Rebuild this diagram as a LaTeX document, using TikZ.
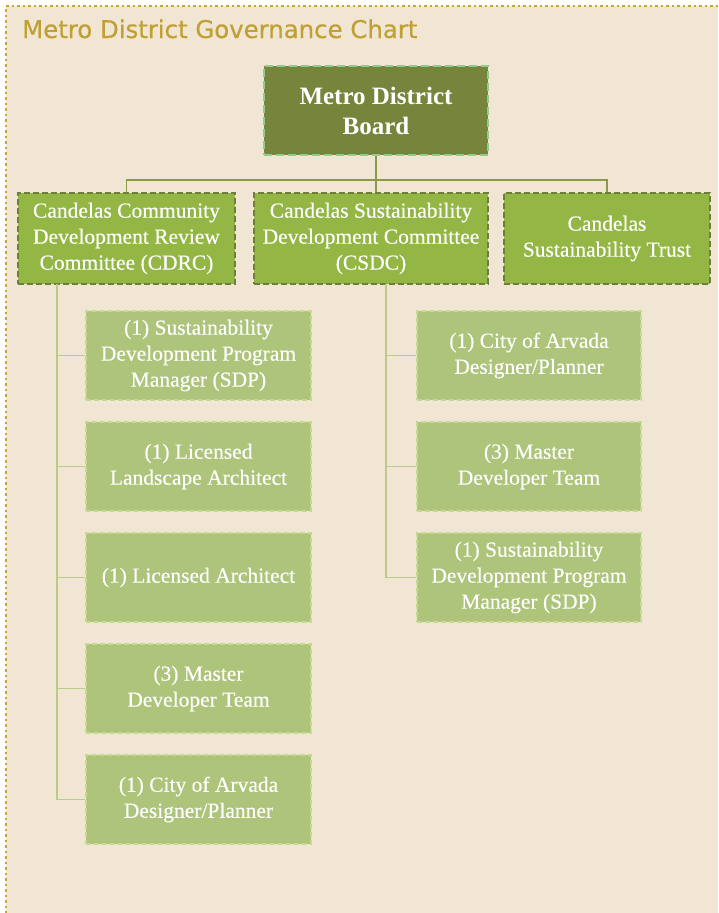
\documentclass[tikz,border=0pt]{standalone}
\usepackage{fontspec}
\setmainfont{Liberation Serif}[FakeBold=0.3]
\newfontfamily\boldserif{Liberation Serif Bold}
\newfontfamily\titlefont{DejaVu Sans}[FakeBold=0.5]
\usetikzlibrary{positioning}

\definecolor{paper}{RGB}{241,230,212}
\definecolor{gold}{RGB}{201,166,50}
\definecolor{titlegold}{RGB}{192,160,50}
\definecolor{olive}{RGB}{118,133,59}
\definecolor{mint}{RGB}{143,205,143}
\definecolor{leaf}{RGB}{147,182,68}
\definecolor{darkleaf}{RGB}{111,127,59}
\definecolor{sage}{RGB}{173,196,122}
\definecolor{palesage}{RGB}{196,217,146}
\definecolor{wire}{RGB}{138,154,74}
\definecolor{palewire}{RGB}{184,204,136}

\begin{document}
\begin{tikzpicture}[x=1pt,y=1pt,node distance=111pt]
        \tikzstyle{board}=[fill=olive,draw=mint,line width=2pt,dash pattern=on 8pt off 4pt,
                           text=white,font=\boldserif\fontsize{25}{30}\selectfont,align=center,
                           minimum width=224pt,minimum height=89pt,inner sep=0pt]
        \tikzstyle{committee}=[fill=leaf,draw=darkleaf,line width=2pt,dash pattern=on 6pt off 3pt,
                           text=white,font=\fontsize{21.5}{26}\selectfont,align=center,
                           minimum height=91pt,inner sep=0pt]
        \tikzstyle{member}=[fill=sage,draw=palesage,line width=1.5pt,dash pattern=on 5pt off 3pt,
                           text=white,font=\fontsize{21.5}{26}\selectfont,align=center,
                           minimum width=225pt,minimum height=89pt,inner sep=0pt]
        \tikzstyle{link}=[draw=wire,line width=1.5pt]
        \tikzstyle{sublink}=[draw=palewire,line width=1.5pt]

        % page
        \useasboundingbox (0,0) rectangle (718,-913);
        \fill[paper] (6,-6) rectangle (718,-913);
        \draw[gold,line width=2.5pt,dash pattern=on 2.5pt off 3pt]
             (718,-6) -- (6,-6) -- (6,-913);
        \node[anchor=base west,inner sep=0pt,text=titlegold,
              font=\titlefont\fontsize{24.4}{28}\selectfont] (title) at (22,-38)
             {Metro District Governance Chart};

        % top and second level
        \node[board]                        (board) at (376,-110.5) {Metro District\\Board};
        \node[committee,minimum width=217pt] (cdrc)  at (126.5,-238.5)
             {Candelas Community\\Development Review\\Committee (CDRC)};
        \node[committee,minimum width=234pt] (csdc)  at (371,-238.5)
             {Candelas Sustainability\\Development Committee\\(CSDC)};
        \node[committee,minimum width=206pt] (trust) at (607,-238.5)
             {Candelas\\Sustainability Trust};

        % CDRC members
        \node[member]             (l1) at (198.5,-355.5) {(1) Sustainability\\Development Program\\Manager (SDP)};
        \node[member] (l2) [below of=l1] {(1) Licensed\\Landscape Architect};
        \node[member] (l3) [below of=l2] {(1) Licensed Architect};
        \node[member] (l4) [below of=l3] {(3) Master\\Developer Team};
        \node[member] (l5) [below of=l4] {(1) City of Arvada\\Designer/Planner};

        % CSDC members
        \node[member,minimum width=224pt] (r1) at (529,-355.5) {(1) City of Arvada\\Designer/Planner};
        \node[member,minimum width=224pt] (r2) [below of=r1] {(3) Master\\Developer Team};
        \node[member,minimum width=224pt] (r3) [below of=r2] {(1) Sustainability\\Development Program\\Manager (SDP)};

        % connectors
        \coordinate (bus) at (376,-180);
        \path[link] (board.south) -- (bus)
                    (cdrc.north) |- (bus) -| (trust.north)
                    (bus) -- (bus |- csdc.north);

        \coordinate (ltrunk) at (57,-284);
        \coordinate (rtrunk) at (386,-284);
        \path[sublink] (ltrunk) |- (l5.west)
                       (rtrunk) |- (r3.west);
        \foreach \n in {1,...,4}
            \path[sublink] (ltrunk |- l\n.west) -- (l\n.west);
        \foreach \n in {1,2}
            \path[sublink] (rtrunk |- r\n.west) -- (r\n.west);
      \end{tikzpicture}
\end{document}
